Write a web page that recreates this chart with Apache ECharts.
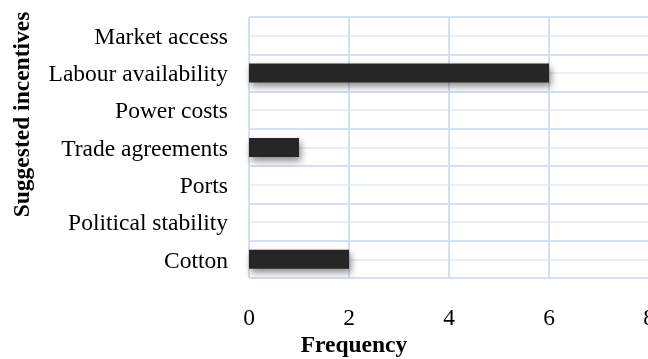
<!DOCTYPE html>
<html>
<head>
<meta charset="utf-8">
<script src="https://cdn.jsdelivr.net/npm/echarts@6/dist/echarts.min.js"></script>
<style>
  html, body { margin: 0; padding: 0; background: #fff; }
  #chart { width: 648px; height: 359px; }
</style>
</head>
<body>
<div id="chart"></div>
<script>
// Suggested incentives and how often each was named
const categories = ['Market access', 'Labour availability', 'Power costs', 'Trade agreements', 'Ports', 'Political stability', 'Cotton'];
const frequency = [0, 6, 0, 1, 0, 0, 2];
const xTicks = [0, 2, 4, 6, 8];

const FONT = '"Liberation Serif", "Times New Roman", serif';
const FONT_SIZE = 23.5;
const GRID_DARK = '#d3dff2';
const GRID_LIGHT = '#e9eff9';

const chart = echarts.init(document.getElementById('chart'));
chart.setOption({
  animation: false,
  grid: { left: 249, right: -1, top: 17, bottom: 81, outerBoundsMode: 'none', containLabel: false },
  xAxis: {
    type: 'value',
    min: xTicks[0],
    max: xTicks[xTicks.length - 1],
    interval: xTicks[1] - xTicks[0],
    axisLine: { show: false },
    axisTick: { show: false },
    axisLabel: { color: '#000', fontFamily: FONT, fontSize: FONT_SIZE, margin: 29 },
    splitLine: { show: true, lineStyle: { color: GRID_DARK, width: 2 } },
    name: 'Frequency',
    nameLocation: 'middle',
    nameGap: 56,
    nameMoveOverlap: false,
    nameTextStyle: { color: '#000', fontFamily: FONT, fontSize: FONT_SIZE, fontWeight: 'bold', padding: [0, 190, 0, 0] }
  },
  yAxis: [
    {
      type: 'category',
      data: categories,
      inverse: true,
      axisLine: { show: false },
      axisTick: { show: false },
      splitLine: { show: false },
      // labels sit slightly below the band centre
      axisLabel: { color: '#000', fontFamily: FONT, fontSize: FONT_SIZE, margin: 21, verticalAlign: 'top', lineHeight: 4 },
      name: 'Suggested incentives',
      nameLocation: 'middle',
      nameRotate: 90,
      nameGap: 214,
      nameMoveOverlap: false,
      nameTextStyle: { color: '#000', fontFamily: FONT, fontSize: FONT_SIZE, fontWeight: 'bold', padding: [0, 0, 0, 66] }
    },
    {
      // half-band guide lines: band edges darker, band centres lighter
      type: 'value',
      min: 0,
      max: categories.length * 2,
      interval: 1,
      position: 'left',
      axisLine: { show: false },
      axisTick: { show: false },
      axisLabel: { show: false },
      splitLine: { show: true, lineStyle: { color: [GRID_DARK, GRID_LIGHT], width: 2 } }
    }
  ],
  series: [{
    type: 'bar',
    yAxisIndex: 0,
    data: frequency,
    barWidth: 19,
    itemStyle: {
      color: '#262626',
      shadowColor: 'rgba(0,0,0,0.45)',
      shadowBlur: 7,
      shadowOffsetX: 2,
      shadowOffsetY: 4
    }
  }]
});
</script>
</body>
</html>
